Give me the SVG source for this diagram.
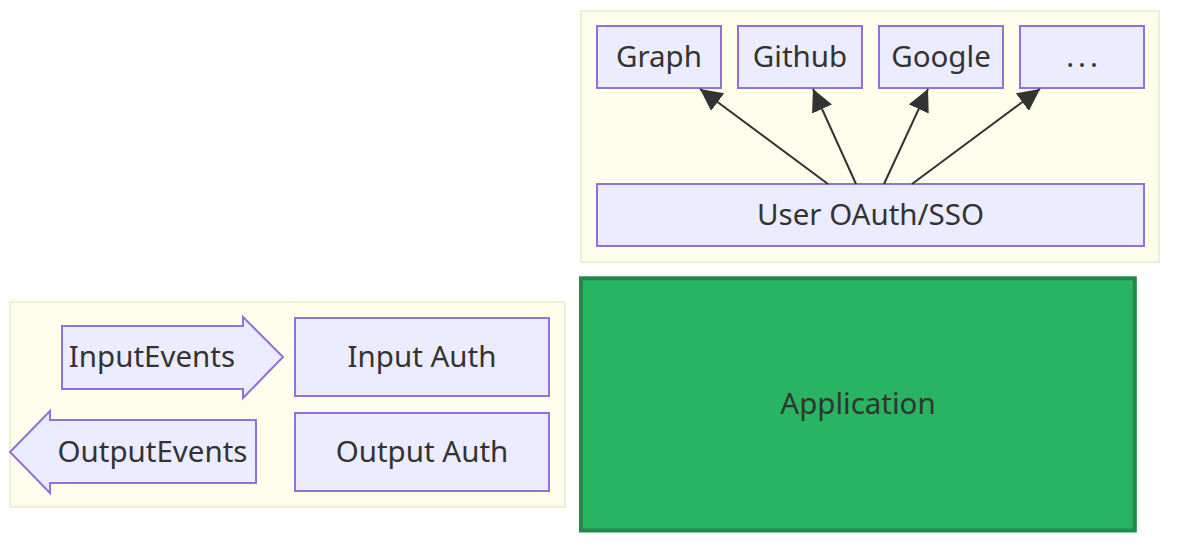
<svg xmlns="http://www.w3.org/2000/svg" width="1186" height="548" viewBox="0 0 1186 548">
<defs>
<style>
.cluster{fill:#fefeec;stroke:#efefd2;stroke-width:2}
.node{fill:#ececff;stroke:#9370db;stroke-width:2}
.app{fill:#29b463;stroke:#208a4a;stroke-width:4}
.lbl{font-family:"Noto Sans","Open Sans","DejaVu Sans",sans-serif;font-size:29.5px;fill:#333;text-anchor:middle}
.edge{stroke:#333;stroke-width:2;fill:none}
</style>
<marker id="arrow" viewBox="0 0 10 10" refX="10" refY="5" markerUnits="userSpaceOnUse" markerWidth="22" markerHeight="22" orient="auto">
<path d="M0,0 L10,5 L0,10 z" fill="#333"/>
</marker>
</defs>
<rect width="1186" height="548" fill="#ffffff"/>
<g id="cluster-auth">
<rect class="cluster" x="581" y="11" width="578" height="251"/>
</g>
<g id="cluster-events">
<rect class="cluster" x="10" y="302" width="555" height="205"/>
</g>
<g id="node-graph">
<rect class="node" x="597" y="26" width="124" height="62"/>
<text class="lbl" x="659" y="67">Graph</text>
</g>
<g id="node-github">
<rect class="node" x="738" y="26" width="124" height="62"/>
<text class="lbl" x="800" y="67">Github</text>
</g>
<g id="node-google">
<rect class="node" x="879" y="26" width="124" height="62"/>
<text class="lbl" x="941" y="67">Google</text>
</g>
<g id="node-more">
<rect class="node" x="1020" y="26" width="124" height="62"/>
<text class="lbl" x="1084" y="67" letter-spacing="4">...</text>
</g>
<g id="node-user">
<rect class="node" x="597" y="184" width="547" height="62"/>
<text class="lbl" x="870.5" y="225">User OAuth/SSO</text>
</g>
<g id="node-inputevents">
<polygon class="node" points="62,326 243,326 243,317 283,357 243,398 243,389 62,389"/>
<text class="lbl" x="152" y="367">InputEvents</text>
</g>
<g id="node-outputevents">
<polygon class="node" points="10,452 50,411 50,420 256,420 256,483 50,483 50,493"/>
<text class="lbl" x="152.5" y="462">OutputEvents</text>
</g>
<g id="node-inputauth">
<rect class="node" x="295" y="318" width="254" height="78"/>
<text class="lbl" x="422" y="367">Input Auth</text>
</g>
<g id="node-outputauth">
<rect class="node" x="295" y="413" width="254" height="78"/>
<text class="lbl" x="422" y="462">Output Auth</text>
</g>
<g id="node-application">
<rect class="app" x="581" y="278.3" width="553.8" height="252.2"/>
<text class="lbl" x="858" y="414">Application</text>
</g>
<g id="connectors">
<path class="edge" d="M828,184 L700,89" marker-end="url(#arrow)"/>
<path class="edge" d="M856,184 L813,89" marker-end="url(#arrow)"/>
<path class="edge" d="M884,184 L928,89" marker-end="url(#arrow)"/>
<path class="edge" d="M912,184 L1040,89" marker-end="url(#arrow)"/>
</g>
</svg>
